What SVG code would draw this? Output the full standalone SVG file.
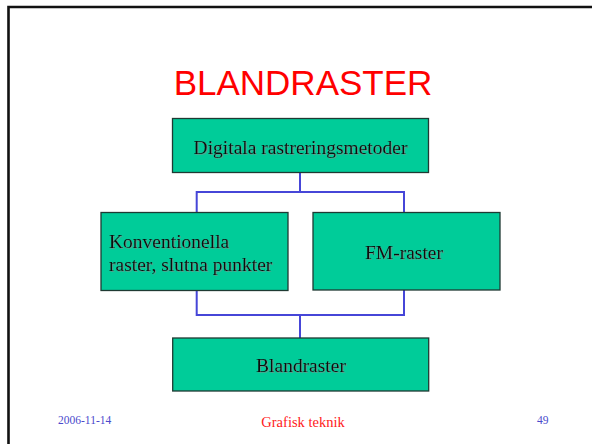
<svg xmlns="http://www.w3.org/2000/svg" width="592" height="444" viewBox="0 0 592 444">
<defs>
<style>
.box{fill:#00CC99;stroke:#1f3a33;stroke-width:1.3}
.lbl{font-family:"Liberation Serif","Times New Roman",serif;font-size:19.5px;fill:#111}
.con{fill:none;stroke:#4646D8;stroke-width:2}
.foot{font-family:"Liberation Serif","Times New Roman",serif}
</style>
<filter id="sh" x="-5%" y="-20%" width="110%" height="140%">
<feDropShadow dx="1" dy="1" stdDeviation="0.3" flood-color="#888" flood-opacity="0.6"/>
</filter>
</defs>
<rect x="0" y="0" width="592" height="444" fill="#ffffff"/>
<path d="M8.5 450 V7 H600" fill="none" stroke="#111" stroke-width="2.6"/>
<text x="303" y="95" text-anchor="middle" font-family="Liberation Sans, Arial, sans-serif" font-size="35" fill="#FF0000">BLANDRASTER</text>
<g id="connectors">
<path class="con" d="M300 172 V192 M196.7 212 V192 H404 V212"/>
<path class="con" d="M196.7 290 V315 H404 V290 M300 315 V338"/>
</g>
<g id="node-top">
<rect class="box" x="172.5" y="118.5" width="256" height="54"/>
<text class="lbl" x="300.5" y="154" text-anchor="middle" filter="url(#sh)">Digitala rastreringsmetoder</text>
</g>
<g id="node-left">
<rect class="box" x="101" y="212.5" width="187" height="78"/>
<text class="lbl" x="109" y="248" filter="url(#sh)">Konventionella</text>
<text class="lbl" x="109" y="271" filter="url(#sh)">raster, slutna punkter</text>
</g>
<g id="node-right">
<rect class="box" x="313" y="212.5" width="187" height="77.5"/>
<text class="lbl" x="404" y="259" text-anchor="middle" filter="url(#sh)">FM-raster</text>
</g>
<g id="node-bottom">
<rect class="box" x="172.7" y="338" width="256" height="53"/>
<text class="lbl" x="301" y="372" text-anchor="middle" filter="url(#sh)">Blandraster</text>
</g>
<text class="foot" x="58" y="424" font-size="11.5" fill="#4A4ACC">2006-11-14</text>
<text class="foot" x="303" y="427" font-size="14.5" fill="#FF2020" text-anchor="middle">Grafisk teknik</text>
<text class="foot" x="537" y="424" font-size="11.5" fill="#4A4ACC">49</text>
</svg>
